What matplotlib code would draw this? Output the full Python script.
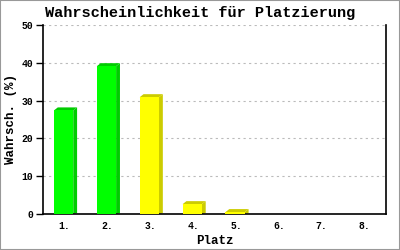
import matplotlib
matplotlib.use("Agg")
import matplotlib.pyplot as plt
from matplotlib.patches import Rectangle

places = ["1.", "2.", "3.", "4.", "5.", "6.", "7.", "8."]
probs = [27.4, 39.1, 30.9, 2.6, 0.5, 0, 0, 0]
colors = ["#00ff00", "#00ff00", "#ffff00", "#ffff00", "#ffff00", "#ffff00", "#ffff00", "#ffff00"]
side_colors = ["#00cc00", "#00cc00", "#cccc00", "#cccc00", "#cccc00", "#cccc00", "#cccc00", "#cccc00"]
yticks = [0, 10, 20, 30, 40, 50]

font = ["Liberation Mono", "DejaVu Sans Mono"]

fig = plt.figure(figsize=(4, 2.5), dpi=100)
ax = fig.add_axes([0.1075, 0.144, 0.8575, 0.756])

width = 0.45
dx = 0.09
dy = 0.8
for i, v in enumerate(probs):
    if v <= 0:
        continue
    x0 = i - width / 2 - 0.02
    x1 = x0 + width
    # side and top faces for the 3d look
    ax.fill([x1, x1 + dx, x1 + dx, x1], [0, dy * 0.3, v + dy, v], color=side_colors[i], lw=0, zorder=2)
    ax.fill([x0, x1, x1 + dx, x0 + dx], [v, v, v + dy, v + dy], color=side_colors[i], lw=0, zorder=2)
    ax.bar(x0, v, width=width, align="edge", color=colors[i], lw=0, zorder=3)

ax.set_xlim(-0.5, len(places) - 0.5)
ax.set_ylim(0, 50)
ax.set_xticks(range(len(places)))
ax.set_xticklabels(places, family=font, fontsize=7, fontweight="bold")
ax.set_yticks(yticks)
ax.set_yticklabels([str(t) for t in yticks], family=font, fontsize=7, fontweight="bold")
ax.tick_params(axis="x", length=0, pad=5)
ax.tick_params(axis="y", length=5, width=1, pad=2)
ax.yaxis.grid(True, ls=(0, (2, 3)), color="#bbbbbb", lw=0.8)
ax.set_axisbelow(True)
ax.spines["top"].set_visible(False)
for s in ["left", "right", "bottom"]:
    ax.spines[s].set_linewidth(1.2)

fig.text(0.5, 1 - 13 / 250, "Wahrscheinlichkeit für Platzierung", family=font, fontsize=11,
         fontweight="bold", ha="center", va="center")
ax.set_xlabel("Platz", family=font, fontsize=9, fontweight="bold", labelpad=3)
ax.set_ylabel("Wahrsch. (%)", family=font, fontsize=9, fontweight="bold", labelpad=3)

fig.patches.append(Rectangle((0, 0), 1, 1, transform=fig.transFigure, fill=False,
                             edgecolor="#999999", lw=1.5))

fig.savefig("out.png", dpi=100)
